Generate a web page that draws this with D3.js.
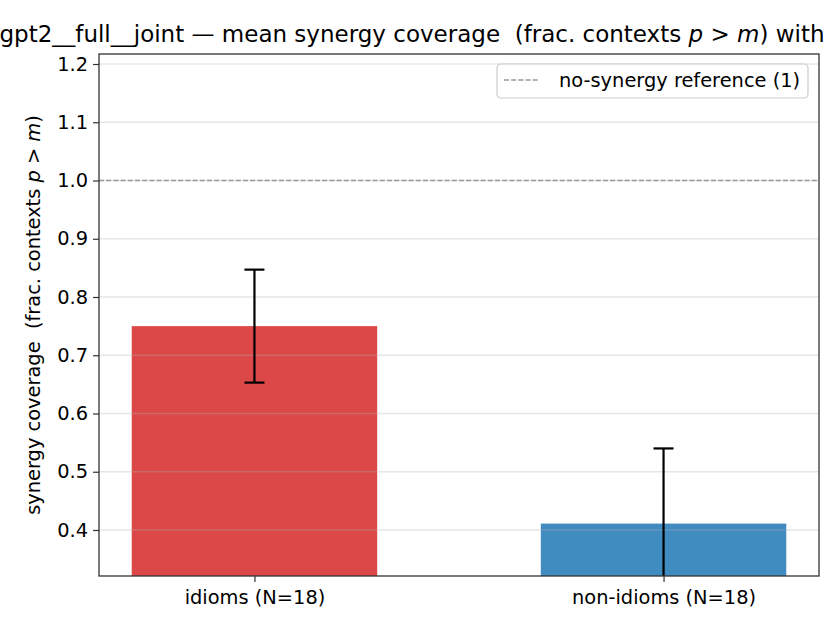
<!DOCTYPE html>
<html>
<head>
<meta charset="utf-8">
<script src="https://cdn.jsdelivr.net/npm/d3@7"></script>
<style>
body { margin: 0; background: white; }
text { font-family: "DejaVu Sans", sans-serif; white-space: pre; }
</style>
</head>
<body>
<svg></svg>
<script>
// data
var categories = ["idioms (N=18)", "non-idioms (N=18)"];
var means = [0.750, 0.411];
var errors = [0.097, 0.129];
var barColors = ["#d62728", "#1f77b4"];
var yTicks = [0.4, 0.5, 0.6, 0.7, 0.8, 0.9, 1.0, 1.1, 1.2];
var referenceValue = 1.0;
var legendLabel = "no-synergy reference (1)";

var screen = {width: 840, height: 630};
var margins = {top: 54, right: 21, bottom: 54, left: 99};

var width = screen.width - margins.left - margins.right;
var height = screen.height - margins.top - margins.bottom;

var svg = d3.select("svg")
    .attr("width", screen.width)
    .attr("height", screen.height);

var xScale = d3.scaleLinear()
    .domain([-0.38, 1.38])
    .range([0, width]);

var yScale = d3.scaleLinear()
    .domain([0.321, 1.2172])
    .range([height, 0]);

var graph = svg.append("g")
    .attr("id", "graph")
    .attr("transform", "translate(" + margins.left + "," + margins.top + ")");

graph.append("clipPath")
    .attr("id", "plotclip")
    .append("rect")
    .attr("width", width)
    .attr("height", height);

var plot = graph.append("g")
    .attr("clip-path", "url(#plotclip)");

// bars
plot.selectAll("rect.bar")
    .data(means)
    .enter()
    .append("rect")
    .attr("class", "bar")
    .attr("x", function(d, i) { return xScale(i - 0.3); })
    .attr("width", function(d, i) { return xScale(i + 0.3) - xScale(i - 0.3); })
    .attr("y", function(d) { return yScale(d); })
    .attr("height", function(d) { return height - yScale(d); })
    .attr("fill", function(d, i) { return barColors[i]; })
    .attr("fill-opacity", 0.85);

// grid above bars
plot.selectAll("line.grid")
    .data(yTicks)
    .enter()
    .append("line")
    .attr("class", "grid")
    .attr("x1", 0)
    .attr("x2", width)
    .attr("y1", function(d) { return yScale(d); })
    .attr("y2", function(d) { return yScale(d); })
    .attr("stroke", "#b0b0b0")
    .attr("stroke-opacity", 0.32)
    .attr("stroke-width", 1.3);

// reference line
plot.append("line")
    .attr("x1", 0)
    .attr("x2", width)
    .attr("y1", yScale(referenceValue))
    .attr("y2", yScale(referenceValue))
    .attr("stroke", "#999999")
    .attr("stroke-width", 1.4)
    .attr("stroke-dasharray", "5,2.2");

// error bars
var errG = plot.selectAll("g.err")
    .data(means)
    .enter()
    .append("g")
    .attr("class", "err")
    .attr("stroke", "black")
    .attr("stroke-width", 2.2);

errG.append("line")
    .attr("x1", function(d, i) { return xScale(i); })
    .attr("x2", function(d, i) { return xScale(i); })
    .attr("y1", function(d, i) { return yScale(d - errors[i]); })
    .attr("y2", function(d, i) { return yScale(d + errors[i]); });

errG.append("line")
    .attr("x1", function(d, i) { return xScale(i) - 10; })
    .attr("x2", function(d, i) { return xScale(i) + 10; })
    .attr("y1", function(d, i) { return yScale(d + errors[i]); })
    .attr("y2", function(d, i) { return yScale(d + errors[i]); });

errG.append("line")
    .attr("x1", function(d, i) { return xScale(i) - 10; })
    .attr("x2", function(d, i) { return xScale(i) + 10; })
    .attr("y1", function(d, i) { return yScale(d - errors[i]); })
    .attr("y2", function(d, i) { return yScale(d - errors[i]); });

// axes
var yAxis = d3.axisLeft(yScale)
    .tickValues(yTicks)
    .tickFormat(d3.format(".1f"))
    .tickSize(6)
    .tickPadding(5);

var xAxis = d3.axisBottom(xScale)
    .tickValues([0, 1])
    .tickFormat(function(d) { return categories[d]; })
    .tickSize(6)
    .tickPadding(8);

var yG = graph.append("g").attr("id", "yAxis").call(yAxis);
var xG = graph.append("g").attr("id", "xAxis")
    .attr("transform", "translate(0," + height + ")")
    .call(xAxis);

[yG, xG].forEach(function(g) {
    g.select(".domain").remove();
    g.selectAll(".tick line").attr("stroke", "#333333").attr("stroke-width", 1.2);
    g.selectAll(".tick text")
        .attr("fill", "black")
        .style("font-size", "19.4px")
        .style("font-family", "DejaVu Sans");
});

// frame
graph.append("rect")
    .attr("width", width)
    .attr("height", height)
    .attr("fill", "none")
    .attr("stroke", "#333333")
    .attr("stroke-width", 1.3);

// legend
var legend = graph.append("g")
    .attr("transform", "translate(" + (width - 322) + ",10)");

legend.append("rect")
    .attr("width", 311)
    .attr("height", 34)
    .attr("rx", 4)
    .attr("fill", "white")
    .attr("fill-opacity", 0.8)
    .attr("stroke", "#cccccc")
    .attr("stroke-width", 1.2);

legend.append("line")
    .attr("x1", 7)
    .attr("x2", 43)
    .attr("y1", 16)
    .attr("y2", 16)
    .attr("stroke", "#999999")
    .attr("stroke-width", 1.4)
    .attr("stroke-dasharray", "5,2.2");

legend.append("text")
    .attr("x", 62)
    .attr("y", 23)
    .style("font-size", "19.4px")
    .text(legendLabel);

// y label
var ylab = svg.append("text")
    .attr("transform", "translate(40," + (margins.top + height / 2) + ") rotate(-90)")
    .attr("text-anchor", "middle")
    .style("font-size", "19.4px");
ylab.append("tspan").text("synergy coverage  (frac. contexts ");
ylab.append("tspan").style("font-style", "italic").text("p");
ylab.append("tspan").text(" > ");
ylab.append("tspan").style("font-style", "italic").text("m");
ylab.append("tspan").text(")");

// title (runs off the page in the reference)
var title = svg.append("text")
    .attr("x", 412)
    .attr("y", 42)
    .attr("text-anchor", "middle")
    .style("font-size", "23px");
title.append("tspan").text("gpt2__full__joint \u2014 mean synergy coverage  (frac. contexts ");
title.append("tspan").style("font-style", "italic").text("p");
title.append("tspan").text(" > ");
title.append("tspan").style("font-style", "italic").text("m");
title.append("tspan").text(") with");
</script>
</body>
</html>
